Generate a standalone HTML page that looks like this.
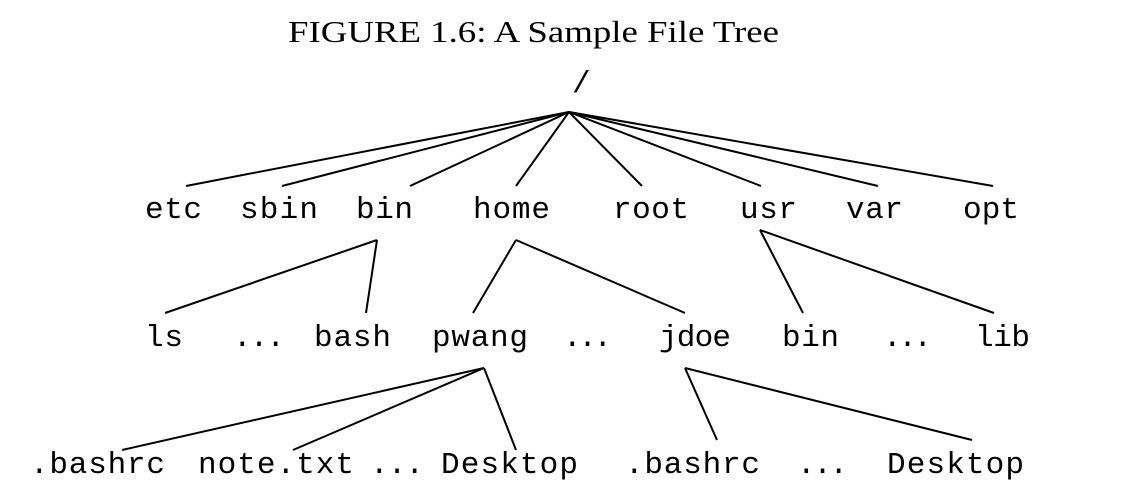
<!DOCTYPE html>
<html><head><meta charset="utf-8"><style>
html,body{margin:0;padding:0;background:#fff;}
svg{display:block}
.m{font-family:"Liberation Mono",monospace;font-size:31px;fill:#000}
.s{font-family:"Liberation Serif",serif;font-size:31px;fill:#000}
</style></head><body>
<svg width="1127" height="498" viewBox="0 0 1127 498" xmlns="http://www.w3.org/2000/svg">
<text class="s" x="288" y="42" textLength="491" lengthAdjust="spacingAndGlyphs">FIGURE 1.6: A Sample File Tree</text>
<text class="m" x="572" y="92">/</text>
<g stroke="#000" stroke-width="2" fill="none">
<line x1="569" y1="112" x2="186" y2="186"/>
<line x1="569" y1="112" x2="282" y2="186"/>
<line x1="569" y1="112" x2="410" y2="186"/>
<line x1="569" y1="112" x2="516" y2="186"/>
<line x1="569" y1="112" x2="642" y2="186"/>
<line x1="569" y1="112" x2="761" y2="186"/>
<line x1="569" y1="112" x2="878" y2="186"/>
<line x1="569" y1="112" x2="993" y2="186"/>
<line x1="377" y1="240" x2="165" y2="313"/>
<line x1="377" y1="240" x2="366" y2="313"/>
<line x1="516" y1="240" x2="473" y2="313"/>
<line x1="516" y1="240" x2="685" y2="313"/>
<line x1="760" y1="230" x2="803" y2="313"/>
<line x1="760" y1="230" x2="994" y2="313"/>
<line x1="484" y1="368" x2="122" y2="450"/>
<line x1="484" y1="368" x2="293" y2="450"/>
<line x1="484" y1="368" x2="516" y2="450"/>
<line x1="685" y1="368" x2="717" y2="440"/>
<line x1="685" y1="368" x2="972" y2="440"/>
</g>
<g class="m">
<text x="145" y="218" textLength="57">etc</text>
<text x="240" y="218" textLength="78">sbin</text>
<text x="356" y="218" textLength="57">bin</text>
<text x="473" y="218" textLength="77">home</text>
<text x="613" y="218" textLength="76">root</text>
<text x="740" y="218" textLength="57">usr</text>
<text x="846" y="218" textLength="57">var</text>
<text x="963" y="218" textLength="56">opt</text>
<text x="145" y="346" textLength="38">ls</text>
<text x="233" y="346" textLength="52">...</text>
<text x="314" y="346" textLength="77">bash</text>
<text x="432" y="346" textLength="96">pwang</text>
<text x="563" y="346" textLength="49">...</text>
<text x="659" y="346" textLength="72">jdoe</text>
<text x="782" y="346" textLength="57">bin</text>
<text x="883" y="346" textLength="49">...</text>
<text x="975" y="346" textLength="55">lib</text>
<text x="30" y="473" textLength="135">.bashrc</text>
<text x="198" y="473" textLength="156">note.txt</text>
<text x="370" y="473" textLength="54">...</text>
<text x="441" y="473" textLength="137">Desktop</text>
<text x="625" y="473" textLength="135">.bashrc</text>
<text x="797" y="473" textLength="51">...</text>
<text x="887" y="473" textLength="137">Desktop</text>
</g>
</svg>
</body></html>
